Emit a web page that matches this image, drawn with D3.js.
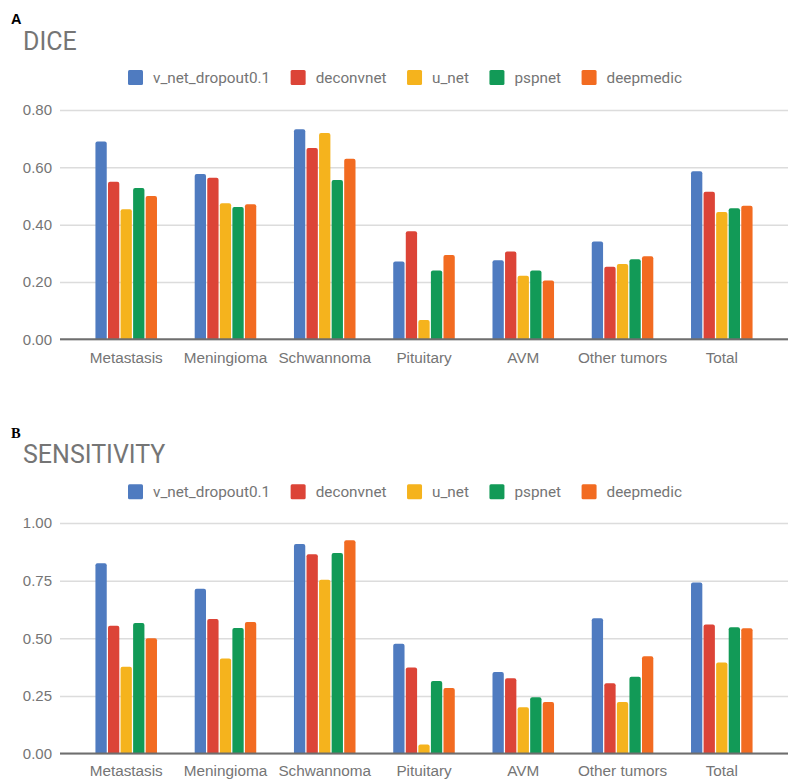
<!DOCTYPE html>
<html>
<head>
<meta charset="utf-8">
<script src="https://cdn.jsdelivr.net/npm/d3@7"></script>
<style>
  html, body { margin: 0; padding: 0; background: #ffffff; }
  svg { display: block; font-family: Roboto, "Noto Sans", sans-serif; }
</style>
</head>
<body>
<svg id="chart" width="789" height="780"></svg>
<script>
// ---- data ----
const categories = ["Metastasis", "Meningioma", "Schwannoma", "Pituitary", "AVM", "Other tumors", "Total"];
const seriesNames = ["v_net_dropout0.1", "deconvnet", "u_net", "pspnet", "deepmedic"];
const seriesColors = ["#4f7bc0", "#dc4437", "#f5b31d", "#129a57", "#f26b21"];

const diceVnet      = [0.690, 0.577, 0.733, 0.271, 0.276, 0.341, 0.586];
const diceDeconvnet = [0.550, 0.564, 0.667, 0.377, 0.306, 0.253, 0.515];
const diceUnet      = [0.454, 0.475, 0.720, 0.067, 0.222, 0.263, 0.444];
const dicePspnet    = [0.528, 0.462, 0.556, 0.240, 0.240, 0.279, 0.457];
const diceDeepmedic = [0.500, 0.471, 0.630, 0.294, 0.205, 0.290, 0.466];

const sensVnet      = [0.825, 0.715, 0.909, 0.476, 0.354, 0.587, 0.742];
const sensDeconvnet = [0.554, 0.583, 0.864, 0.373, 0.327, 0.305, 0.560];
const sensUnet      = [0.376, 0.412, 0.754, 0.039, 0.201, 0.223, 0.395];
const sensPspnet    = [0.566, 0.544, 0.870, 0.315, 0.244, 0.333, 0.548];
const sensDeepmedic = [0.500, 0.571, 0.925, 0.284, 0.223, 0.422, 0.543];

const diceTicks = [0, 0.2, 0.4, 0.6, 0.8];
const sensTicks = [0, 0.25, 0.5, 0.75, 1.0];

// ---- drawing ----
const svg = d3.select("#chart");
const textGray = "#757575";

function topRoundedBar(x, y, w, h, r) {
  r = Math.min(r, h, w / 2);
  return `M${x},${y + h}V${y + r}Q${x},${y} ${x + r},${y}H${x + w - r}Q${x + w},${y} ${x + w},${y + r}V${y + h}Z`;
}

function drawPanel(cfg) {
  const g = svg.append("g");
  const x0 = d3.scaleBand().domain(categories).range([60, 788]).paddingInner(0.38).paddingOuter(0.357);
  const x1 = d3.scaleBand().domain(seriesNames).range([0, x0.bandwidth()]).paddingInner(0.1);
  const y = d3.scaleLinear().domain(cfg.domain).range([cfg.bottom, cfg.top]);
  const color = d3.scaleOrdinal().domain(seriesNames).range(seriesColors);

  // panel letter & title
  g.append("text").attr("x", 11).attr("y", cfg.letterY).text(cfg.letter)
    .attr("font-family", cfg.letterFont).attr("font-weight", "bold").attr("font-size", 14.5).attr("fill", "#000");
  g.append("text").attr("x", 23).attr("y", cfg.titleY).text(cfg.title)
    .attr("font-size", 25).attr("fill", textGray);

  // legend
  const leg = g.append("g").attr("transform", `translate(128,${cfg.legendY})`);
  let lx = 0;
  seriesNames.forEach((s, i) => {
    leg.append("rect").attr("x", lx).attr("y", -7.5).attr("width", 15).attr("height", 15)
      .attr("rx", 1.5).attr("fill", color(s));
    const t = leg.append("text").attr("x", lx + 25).attr("y", 0).attr("dy", "0.35em")
      .attr("font-size", 15.3).attr("fill", textGray).text(s);
    lx += 25 + t.node().getComputedTextLength() + 20.5;
  });

  // gridlines + y labels
  const yAxis = d3.axisLeft(y).tickValues(cfg.ticks).tickFormat(d3.format(".2f"))
    .tickSize(-728).tickPadding(8);
  const ya = g.append("g").attr("transform", "translate(60,0)").call(yAxis);
  ya.select(".domain").remove();
  ya.selectAll(".tick line").attr("stroke", "#dcdcdc").attr("stroke-width", 1.5);
  ya.selectAll(".tick text").attr("font-size", 15).attr("fill", textGray).attr("font-family", null);

  // bars
  const groups = g.append("g").selectAll("g").data(categories).join("g")
    .attr("transform", c => `translate(${x0(c)},0)`);
  groups.selectAll("path").data((c, ci) => seriesNames.map((s, si) => ({ s, v: cfg.values[si][ci] })))
    .join("path")
    .attr("d", d => topRoundedBar(x1(d.s), y(d.v), x1.bandwidth(), y(0) - y(d.v), 2))
    .attr("fill", d => color(d.s));

  // x axis baseline + category labels
  const xAxis = d3.axisBottom(x0).tickSize(0).tickPadding(cfg.xPad);
  const xa = g.append("g").attr("transform", `translate(0,${y(0)})`).call(xAxis);
  xa.select(".domain").remove();
  xa.selectAll(".tick text").attr("font-size", 15.3).attr("fill", textGray).attr("font-family", null);
  g.append("line").attr("x1", 60).attr("x2", 788).attr("y1", y(0)).attr("y2", y(0))
    .attr("stroke", "#6e6e6e").attr("stroke-width", 2);
}

drawPanel({
  letter: "A", letterY: 23.5, letterFont: "Liberation Sans, Arial, sans-serif",
  title: "DICE", titleY: 49.5, legendY: 77.5,
  domain: [0, 0.8], ticks: diceTicks, top: 110, bottom: 339.3, xPad: 13,
  values: [diceVnet, diceDeconvnet, diceUnet, dicePspnet, diceDeepmedic]
});

drawPanel({
  letter: "B", letterY: 437.7, letterFont: "Liberation Serif, Times New Roman, serif",
  title: "SENSITIVITY", titleY: 462.5, legendY: 491.7,
  domain: [0, 1.0], ticks: sensTicks, top: 523, bottom: 753.5, xPad: 12,
  values: [sensVnet, sensDeconvnet, sensUnet, sensPspnet, sensDeepmedic]
});
</script>
</body>
</html>
